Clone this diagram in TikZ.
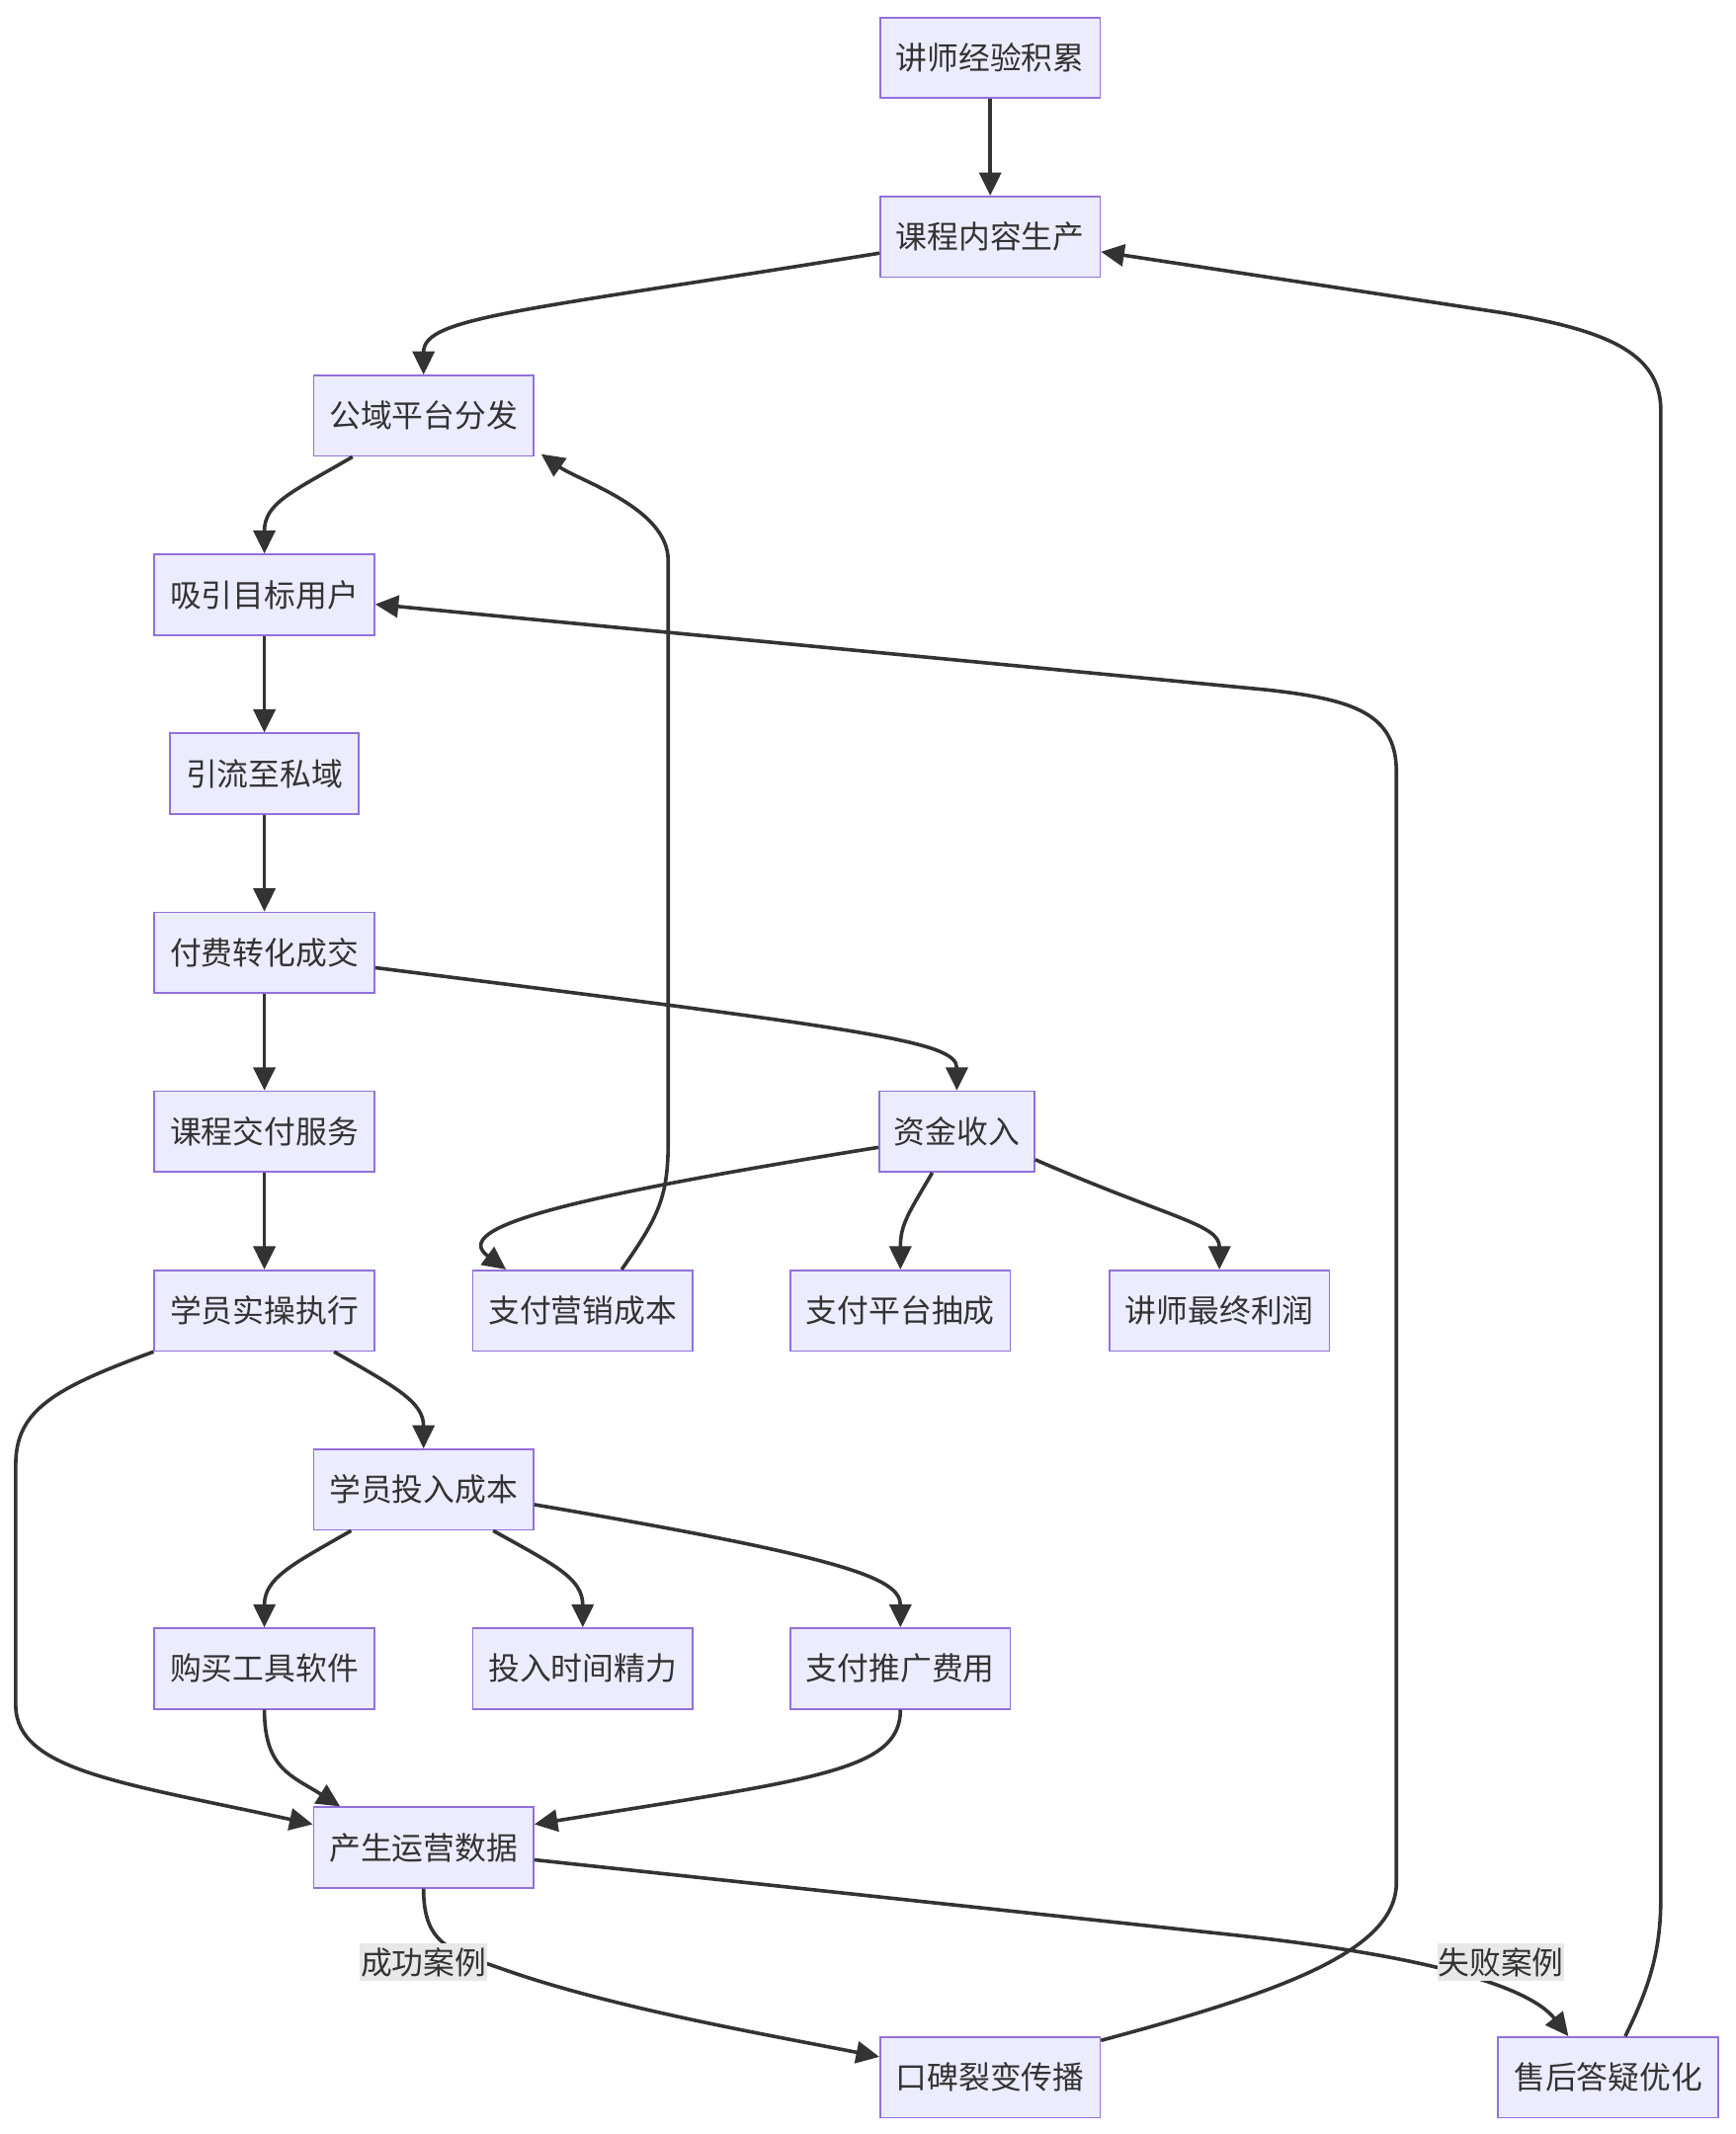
\documentclass[tikz,border=0pt]{standalone}
\usepackage{fontspec}
\newfontfamily\cjk{Noto Sans CJK SC}
\usetikzlibrary{arrows.meta,calc}
\definecolor{mfill}{HTML}{ECECFF}
\definecolor{mborder}{HTML}{9370DB}
\definecolor{mline}{HTML}{333333}
\definecolor{mlabel}{HTML}{E8E8E8}
\begin{document}
\begin{tikzpicture}[x=1pt,y=-1pt,
  box/.style={draw=mborder,fill=mfill,line width=1.2pt,minimum height=59pt,inner sep=0pt,
    font=\cjk\fontsize{23}{28}\selectfont,text=mline},
  wsix/.style={minimum width=161pt},
  wfive/.style={minimum width=138pt},
  wfour/.style={minimum width=113.5pt},
  edge/.style={draw=mline,line width=2.6pt,-{Triangle[length=17pt,width=16pt]}},
  elabel/.style={fill=mlabel,inner sep=0pt,minimum width=93pt,minimum height=27.5pt,
    font=\cjk\fontsize{23}{28}\selectfont,text=mline}]
\useasboundingbox (0,0) rectangle (1270,1562);
% nodes
\node[box,wsix]  (n1)  at (724.7,42.3)   {讲师经验积累};
\node[box,wsix]  (n2)  at (724.7,173.3)  {课程内容生产};
\node[box,wsix]  (n3)  at (310,304.3)    {公域平台分发};
\node[box,wsix]  (n4)  at (193.5,435.3)  {吸引目标用户};
\node[box,wfive] (n5)  at (193.5,566.3)  {引流至私域};
\node[box,wsix]  (n6)  at (193.5,697.3)  {付费转化成交};
\node[box,wsix]  (n7)  at (193.5,828.3)  {课程交付服务};
\node[box,wfour] (n8)  at (700.3,828.3)  {资金收入};
\node[box,wsix]  (n9)  at (193.5,959.3)  {学员实操执行};
\node[box,wsix]  (n10) at (426.5,959.3)  {支付营销成本};
\node[box,wsix]  (n11) at (659,959.3)    {支付平台抽成};
\node[box,wsix]  (n12) at (892.5,959.3)  {讲师最终利润};
\node[box,wsix]  (n13) at (310,1090.3)   {学员投入成本};
\node[box,wsix]  (n14) at (193.5,1221.3) {购买工具软件};
\node[box,wsix]  (n15) at (426.5,1221.3) {投入时间精力};
\node[box,wsix]  (n16) at (659,1221.3)   {支付推广费用};
\node[box,wsix]  (n17) at (310,1352.3)   {产生运营数据};
\node[box,wsix]  (n18) at (724.7,1520.5) {口碑裂变传播};
\node[box,wsix]  (n19) at (1177,1520.5)  {售后答疑优化};
% edges
\draw[edge] (n1.south) -- (n2.north);
\draw[edge] ($(n2.west)+(0,12)$) .. controls (380,228) and (310,232) .. (n3.north);
\draw[edge] ($(n3.south)+(-52,0)$) .. controls (214,360) and (193.5,368) .. (n4.north);
\draw[edge] (n4.south) -- (n5.north);
\draw[edge] (n5.south) -- (n6.north);
\draw[edge] (n6.south) -- (n7.north);
\draw[edge] ($(n6.east)+(0,11)$) .. controls (637,754) and (700.3,762) .. (n8.north);
\draw[edge] ($(n8.west)+(0,11.5)$) .. controls (418,876) and (328,898) .. ($(n10.north west)+(25,0)$);
\draw[edge] ($(n8.south)+(-18,0)$) .. controls (665,888) and (659,896) .. (n11.north);
\draw[edge] ($(n8.east)+(0,20.5)$) .. controls (857,892) and (892.5,896) .. (n12.north);
\draw[edge] ($(n10.north)+(28.5,0)$) .. controls (481,892) and (489,877) .. (489,837)
  -- (489,410) .. controls (489,372) and (424,352) .. ($(n3.south east)+(5,-2)$);
\draw[edge] ($(n18.east)+(0,-27)$) .. controls (938,1458) and (1022,1428) .. (1022,1378)
  -- (1022,565) .. controls (1022,522) and (990,512) .. (928,505) -- ($(n4.east)+(0,7)$);
\draw[edge] ($(n19.north)+(12.5,0)$) .. controls (1207,1455) and (1215.5,1428) .. (1215.5,1390)
  -- (1215.5,300) .. controls (1215.5,256) and (1170,241) .. (1100,229) -- ($(n2.east)+(0,11)$);
\draw[edge] (n7.south) -- (n9.north);
\draw[edge] ($(n9.south)+(51,0)$) .. controls (289,1015) and (310,1026) .. (n13.north);
\draw[edge] (n9.south west) .. controls (40,1016) and (11.5,1032) .. (11.5,1072)
  -- (11.5,1248) .. controls (11.5,1296) and (90,1305) .. ($(n17.west)+(0,-17)$);
\draw[edge] ($(n13.south)+(-53,0)$) .. controls (214,1145) and (193.5,1155) .. (n14.north);
\draw[edge] ($(n13.south)+(51,0)$) .. controls (405,1145) and (426.5,1155) .. (n15.north);
\draw[edge] ($(n13.east)+(0,11)$) .. controls (618,1140) and (659,1155) .. (n16.north);
\draw[edge] (n14.south) .. controls (193.5,1295) and (214,1300) .. ($(n17.north west)+(20,0)$);
\draw[edge] (n16.south) .. controls (659,1296) and (598,1302) .. ($(n17.east)+(0,-17)$);
\draw[edge] (n17.south) .. controls (310,1424) and (330,1428) .. (370,1442)
  .. controls (450,1470) and (560,1489) .. ($(n18.west)+(0,-15)$);
\draw[edge] ($(n17.east)+(0,9)$) -- (900,1416) .. controls (1050,1432) and (1120,1455) .. ($(n19.north west)+(52,0)$);
% edge labels
\node[elabel] (l1) at (310,1436.5) {成功案例};
\node[elabel] (l2) at (1098.5,1436.5) {失败案例};
\end{tikzpicture}
\end{document}
